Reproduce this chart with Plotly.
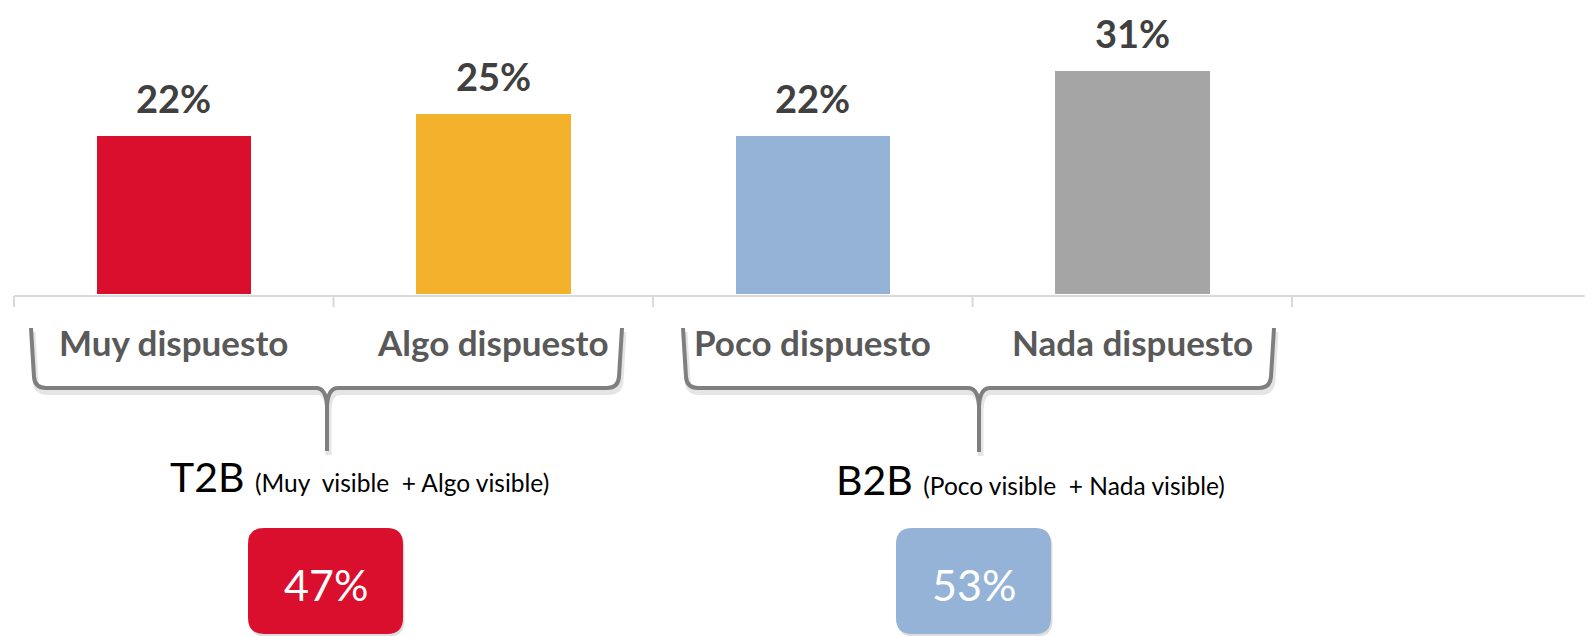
import plotly.graph_objects as go

# ---------------- data ----------------
categories = ["Muy dispuesto", "Algo dispuesto", "Poco dispuesto", "Nada dispuesto"]
values = [22, 25, 22, 31]
value_labels = ["22%", "25%", "22%", "31%"]
bar_colors = ["#DA0F2E", "#F4B12B", "#95B3D7", "#A5A5A5"]

group_names = ["T2B", "B2B"]
group_notes = ["(Muy \u00a0visible \u00a0+ Algo visible)", "(Poco visible \u00a0+ Nada visible)"]
group_values = [47, 53]
group_labels = ["47%", "53%"]
group_colors = ["#DA0F2E", "#95B3D7"]

# ---------------- layout constants (page pixels) ----------------
W, H = 1593, 636
OFF = 8            # default page margin around the figure
X_LEFT = 14.0      # left edge of first category slot
SLOT = 319.5       # slot width
Y0 = 293.5         # pixel of value 0
PXU = 7.18         # pixels per unit of value


def px2x(p):
    return -0.5 + (p - X_LEFT) / SLOT


def py2y(p):
    return (Y0 - p) / PXU


def P(px, py):
    return f"{px2x(px):.5f},{py2y(py):.5f}"


xr = [px2x(OFF), px2x(OFF + W)]
yr = [py2y(OFF + H), py2y(OFF)]

fig = go.Figure()
fig.add_trace(go.Bar(
    x=list(range(len(categories))), y=values,
    marker=dict(color=bar_colors, line=dict(width=0)),
    width=154.5 / SLOT, hoverinfo="skip", showlegend=False,
))

shapes = []
annotations = []

# axis line and ticks
AX_PY = 296
shapes.append(dict(type="line", xref="x", yref="y", x0=-0.5, x1=xr[1], y0=py2y(AX_PY), y1=py2y(AX_PY),
                   line=dict(color="#D9D9D9", width=2), layer="below"))
for k in range(len(categories) + 1):
    shapes.append(dict(type="line", xref="x", yref="y", x0=k - 0.5, x1=k - 0.5,
                       y0=py2y(AX_PY), y1=py2y(307), line=dict(color="#D9D9D9", width=2), layer="below"))

# value labels and category labels
for i, (v, lab, cat) in enumerate(zip(values, value_labels, categories)):
    annotations.append(dict(x=i, y=v, xref="x", yref="y", text=lab, showarrow=False,
                            yanchor="middle", yshift=38,
                            font=dict(family="Lato", size=38, color="#404040", weight="bold")))
    annotations.append(dict(x=i, y=py2y(341.5), xref="x", yref="y", text=cat, showarrow=False,
                            yanchor="middle",
                            font=dict(family="Lato", size=35, color="#595959", weight="bold")))


# curly brackets
def bracket(L, R, T, top, hy, tip):
    return (f"M {P(L, top)} L {P(L + 3, hy - 11)} Q {P(L + 4, hy)} {P(L + 15, hy)} "
            f"L {P(T - 11, hy)} Q {P(T - 1, hy)} {P(T, hy + 18)} L {P(T, tip)} "
            f"M {P(T, hy + 18)} Q {P(T + 1, hy)} {P(T + 11, hy)} "
            f"L {P(R - 15, hy)} Q {P(R - 4, hy)} {P(R - 3, hy - 11)} L {P(R, top)}")


def bracket_shift(L, R, T, top, hy, tip, dx, dy):
    return bracket(L + dx, R + dx, T + dx, top + dy, hy + dy, tip + dy)


brackets = [(31, 622, 327, 328, 388, 451), (683, 1274, 979, 328, 388, 452)]
for b in brackets:
    shapes.append(dict(type="path", xref="x", yref="y", path=bracket_shift(*b, 1.5, 4),
                       line=dict(color="rgba(0,0,0,0.10)", width=6)))
    shapes.append(dict(type="path", xref="x", yref="y", path=bracket(*b),
                       line=dict(color="#7F7F7F", width=4)))


# group boxes
def rrect(x0, x1, y0, y1, r):
    return (f"M {P(x0 + r, y0)} L {P(x1 - r, y0)} Q {P(x1, y0)} {P(x1, y0 + r)} "
            f"L {P(x1, y1 - r)} Q {P(x1, y1)} {P(x1 - r, y1)} L {P(x0 + r, y1)} "
            f"Q {P(x0, y1)} {P(x0, y1 - r)} L {P(x0, y0 + r)} Q {P(x0, y0)} {P(x0 + r, y0)} Z")


BOX_CX = [325.5, 973.5]
BOX_W = 155
BOX_TOP, BOX_BOT = 528, 634
TEXT_LEFT = [168, 834]
TEXT_PY = [476, 479]
for g in range(len(group_names)):
    cx = BOX_CX[g]
    shapes.append(dict(type="path", xref="x", yref="y",
                       path=rrect(cx - BOX_W / 2 + 1.5, cx + BOX_W / 2 + 1.5, BOX_TOP + 2.5, BOX_BOT + 2.5, 16),
                       fillcolor="rgba(0,0,0,0.13)", line=dict(width=0)))
    shapes.append(dict(type="path", xref="x", yref="y",
                       path=rrect(cx - BOX_W / 2, cx + BOX_W / 2, BOX_TOP, BOX_BOT, 16),
                       fillcolor=group_colors[g], line=dict(width=0)))
    annotations.append(dict(x=px2x(cx), y=py2y(584), xref="x", yref="y", text=group_labels[g],
                            showarrow=False, yanchor="middle",
                            font=dict(family="Lato", size=43, color="#FFFFFF")))
    annotations.append(dict(x=px2x(TEXT_LEFT[g]), y=py2y(TEXT_PY[g]), xref="x", yref="y",
                            xanchor="left", yanchor="middle", showarrow=False,
                            text=f"{group_names[g]} <span style='font-size:24.5px'>{group_notes[g]}</span>",
                            font=dict(family="Lato", size=41, color="#000000")))

fig.update_layout(
    width=W, height=H,
    margin=dict(l=0, r=0, t=0, b=0),
    paper_bgcolor="white", plot_bgcolor="white",
    xaxis=dict(range=xr, visible=False, fixedrange=True),
    yaxis=dict(range=yr, visible=False, fixedrange=True),
    shapes=shapes, annotations=annotations,
    bargap=0, showlegend=False,
)

fig.write_html("out.html")
